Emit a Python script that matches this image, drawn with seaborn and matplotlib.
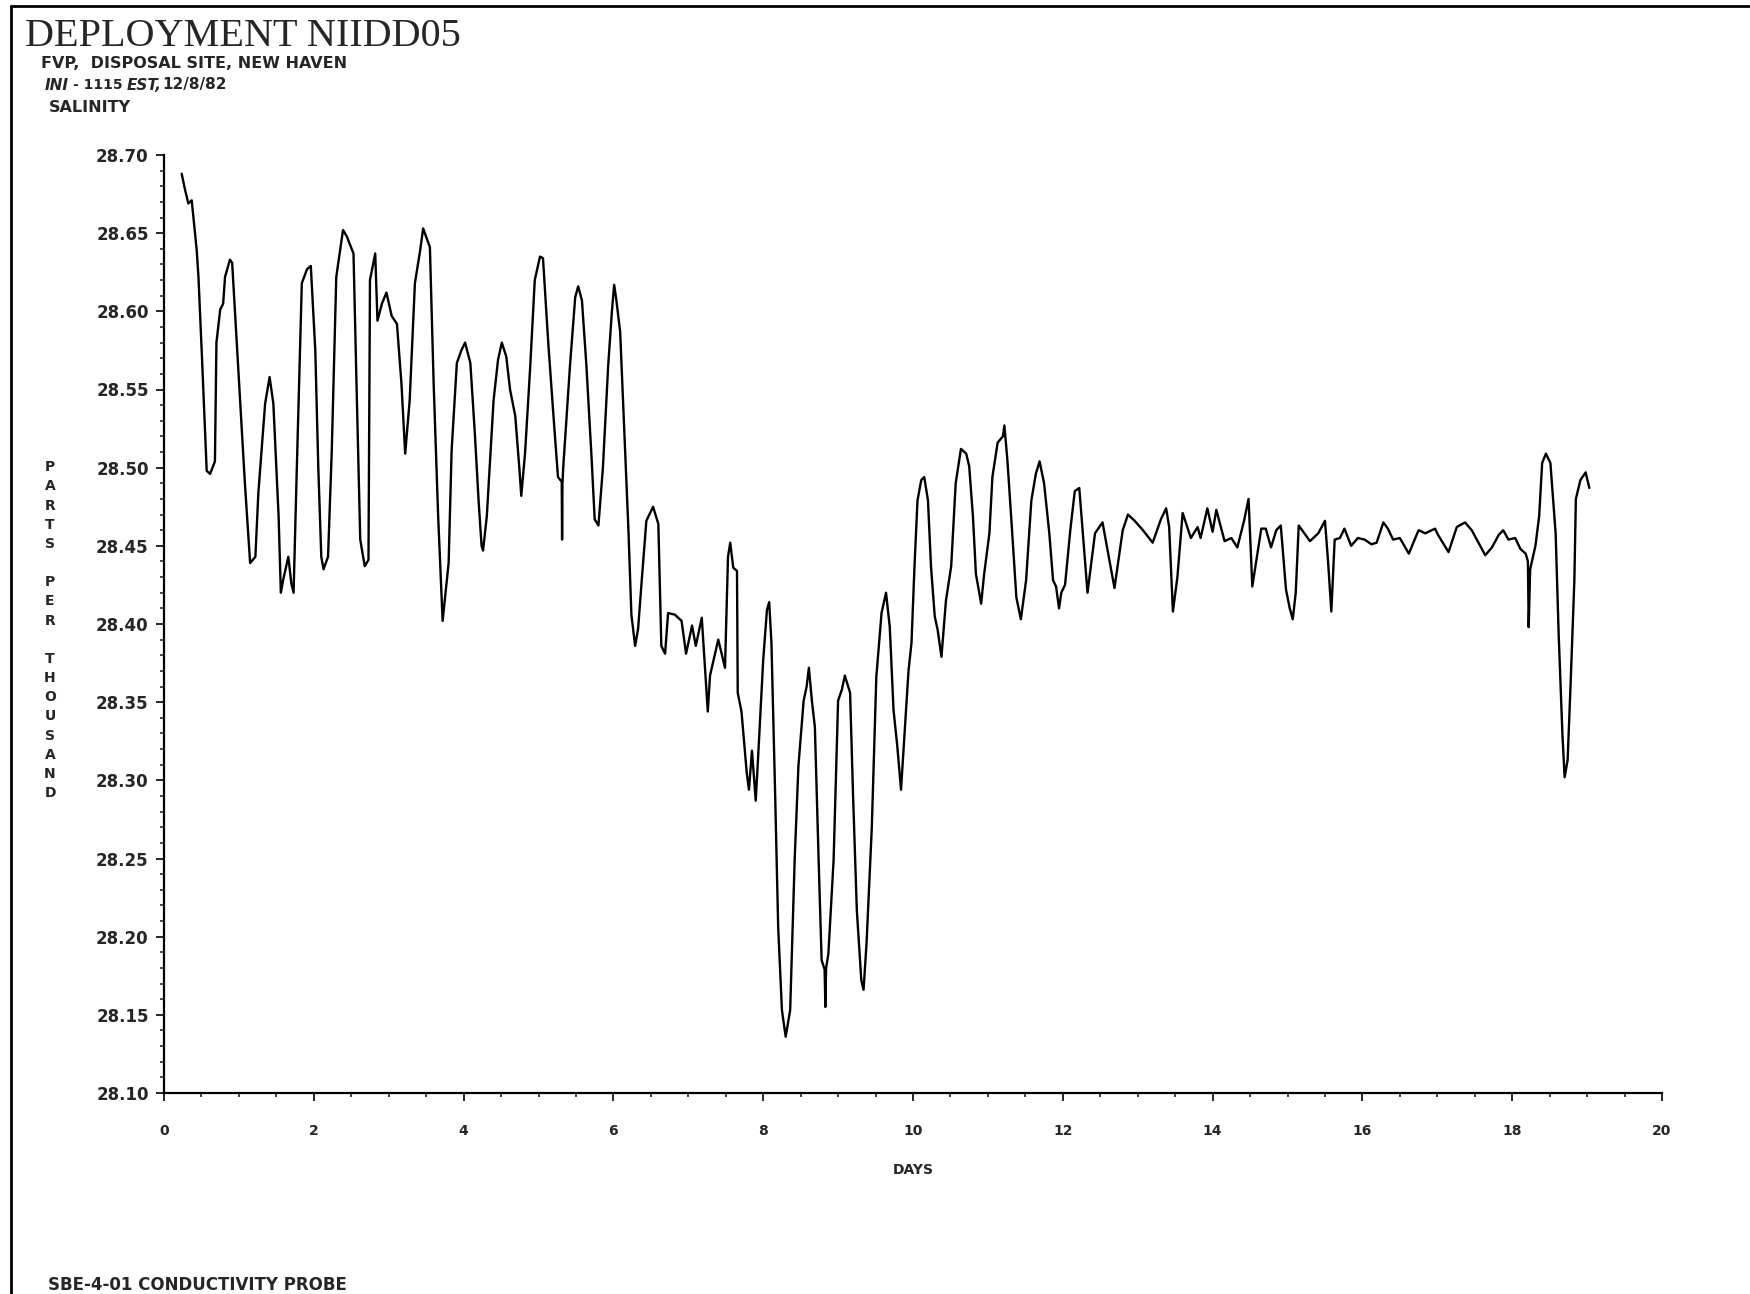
import matplotlib
matplotlib.use("Agg")
import matplotlib.pyplot as plt
from matplotlib.lines import Line2D
from matplotlib.ticker import FixedLocator, MultipleLocator
import pandas as pd
import seaborn as sns

# salinity record, split in pieces
days_a = [0.236, 0.28, 0.325, 0.37, 0.437, 0.46, 0.503, 0.57, 0.615, 0.68, 0.70, 0.75, 0.79,
          0.815, 0.88, 0.91, 0.99, 1.08, 1.15, 1.22, 1.26, 1.35, 1.41, 1.46, 1.53, 1.56, 1.59,
          1.66, 1.70, 1.73, 1.77, 1.84, 1.91, 1.96, 2.02, 2.06, 2.10, 2.13, 2.19, 2.24, 2.30,
          2.39, 2.44, 2.53, 2.57, 2.62, 2.68, 2.73, 2.75, 2.82, 2.85, 2.91, 2.97, 3.04, 3.11,
          3.17, 3.22, 3.28, 3.35, 3.42, 3.46, 3.55, 3.60, 3.66, 3.72, 3.80, 3.84, 3.91, 3.97]
sal_a = [28.688, 28.678, 28.669, 28.671, 28.639, 28.622, 28.575, 28.498, 28.496, 28.504, 28.580,
         28.601, 28.605, 28.622, 28.633, 28.631, 28.565, 28.490, 28.439, 28.443, 28.484, 28.541,
         28.558, 28.541, 28.469, 28.420, 28.428, 28.443, 28.426, 28.420, 28.494, 28.618, 28.627,
         28.629, 28.575, 28.500, 28.443, 28.435, 28.443, 28.511, 28.622, 28.652, 28.648, 28.637,
         28.554, 28.454, 28.437, 28.441, 28.620, 28.637, 28.594, 28.605, 28.612, 28.597, 28.592,
         28.554, 28.509, 28.543, 28.618, 28.639, 28.653, 28.641, 28.554, 28.469, 28.402, 28.439,
         28.511, 28.567, 28.575]

days_b = [4.02, 4.09, 4.15, 4.20, 4.24, 4.26, 4.31, 4.40, 4.46, 4.51, 4.57, 4.62, 4.69, 4.75,
          4.77, 4.82, 4.89, 4.95, 5.02, 5.06, 5.13, 5.20, 5.26, 5.31, 5.315, 5.32, 5.33, 5.42,
          5.49, 5.53, 5.58, 5.64, 5.71, 5.75, 5.80, 5.86, 5.93, 5.98, 6.01, 6.04, 6.09, 6.155,
          6.20, 6.24, 6.29, 6.33, 6.38, 6.44, 6.53, 6.60, 6.64, 6.69, 6.73, 6.82, 6.91, 6.97,
          7.05, 7.10, 7.18, 7.22, 7.26, 7.29, 7.40, 7.49, 7.53, 7.56, 7.60, 7.65, 7.66, 7.71,
          7.78, 7.81, 7.85, 7.90, 7.93]
sal_b = [28.580, 28.567, 28.522, 28.479, 28.450, 28.447, 28.469, 28.543, 28.569, 28.580, 28.571,
         28.550, 28.533, 28.496, 28.482, 28.509, 28.565, 28.620, 28.635, 28.634, 28.580, 28.533,
         28.494, 28.491, 28.454, 28.490, 28.500, 28.565, 28.609, 28.616, 28.607, 28.565, 28.505,
         28.467, 28.463, 28.500, 28.565, 28.600, 28.617, 28.607, 28.587, 28.512, 28.461, 28.406,
         28.386, 28.397, 28.429, 28.466, 28.475, 28.464, 28.386, 28.381, 28.407, 28.406, 28.402,
         28.381, 28.399, 28.386, 28.404, 28.374, 28.344, 28.367, 28.390, 28.372, 28.443, 28.452,
         28.436, 28.434, 28.356, 28.344, 28.305, 28.294, 28.319, 28.287, 28.313]

days_c = [8.00, 8.05, 8.08, 8.11, 8.16, 8.20, 8.25, 8.30, 8.36, 8.42, 8.47, 8.54, 8.58, 8.61,
          8.65, 8.69, 8.74, 8.78, 8.82, 8.83, 8.84, 8.87, 8.94, 9.00, 9.05, 9.09, 9.16, 9.20,
          9.25, 9.31, 9.34, 9.38, 9.45, 9.51, 9.58, 9.64, 9.69, 9.74, 9.79, 9.84, 9.88, 9.94,
          9.98, 10.02, 10.06, 10.11, 10.15, 10.20, 10.24, 10.29, 10.33, 10.38, 10.44, 10.51,
          10.57, 10.64, 10.71, 10.75, 10.80, 10.84, 10.91, 10.95, 11.02, 11.06, 11.13, 11.20,
          11.22, 11.26, 11.31, 11.38, 11.44, 11.51, 11.58, 11.64, 11.69, 11.75, 11.82, 11.87,
          11.91, 11.95, 11.98]
sal_c = [28.377, 28.409, 28.414, 28.388, 28.290, 28.206, 28.153, 28.136, 28.153, 28.249, 28.309,
         28.351, 28.360, 28.372, 28.351, 28.334, 28.249, 28.185, 28.179, 28.155, 28.180, 28.189,
         28.249, 28.351, 28.358, 28.367, 28.356, 28.290, 28.217, 28.172, 28.166, 28.196, 28.270,
         28.366, 28.407, 28.420, 28.398, 28.345, 28.322, 28.294, 28.324, 28.370, 28.388, 28.437,
         28.479, 28.492, 28.494, 28.479, 28.437, 28.405, 28.396, 28.379, 28.415, 28.437, 28.490,
         28.512, 28.509, 28.501, 28.469, 28.432, 28.413, 28.432, 28.458, 28.494, 28.516, 28.520,
         28.527, 28.505, 28.469, 28.417, 28.403, 28.428, 28.479, 28.496, 28.504, 28.490, 28.458,
         28.428, 28.424, 28.410, 28.420]

days_d = [12.03, 12.10, 12.16, 12.22, 12.33, 12.43, 12.53, 12.69, 12.80, 12.87, 12.96, 13.07,
          13.20, 13.31, 13.38, 13.42, 13.47, 13.53, 13.60, 13.71, 13.80, 13.84, 13.93, 14.00,
          14.05, 14.16, 14.25, 14.33, 14.42, 14.48, 14.53, 14.65, 14.71, 14.78, 14.85, 14.91,
          14.98, 15.03, 15.07, 15.11, 15.15, 15.21, 15.30, 15.41, 15.50, 15.54, 15.585, 15.63,
          15.70, 15.76, 15.85, 15.94]
sal_d = [28.425, 28.460, 28.485, 28.487, 28.420, 28.458, 28.465, 28.423, 28.460, 28.470, 28.466,
         28.460, 28.452, 28.467, 28.474, 28.462, 28.408, 28.430, 28.471, 28.455, 28.462, 28.455,
         28.474, 28.459, 28.473, 28.453, 28.455, 28.449, 28.466, 28.480, 28.424, 28.461, 28.461,
         28.449, 28.460, 28.463, 28.422, 28.410, 28.403, 28.420, 28.463, 28.459, 28.453, 28.458,
         28.466, 28.441, 28.408, 28.454, 28.455, 28.461, 28.450, 28.455]

days_e = [16.03, 16.12, 16.19, 16.28, 16.34, 16.41, 16.50, 16.62, 16.75, 16.84, 16.97, 17.01,
          17.15, 17.26, 17.37, 17.46, 17.55, 17.64, 17.73, 17.82, 17.88, 17.95, 18.04, 18.11,
          18.18, 18.21, 18.22, 18.24, 18.31, 18.36, 18.40, 18.45, 18.51, 18.58, 18.62, 18.67,
          18.70, 18.74, 18.78, 18.83, 18.85, 18.91, 18.98, 19.03]
sal_e = [28.454, 28.451, 28.452, 28.465, 28.461, 28.454, 28.455, 28.445, 28.460, 28.458, 28.461,
         28.457, 28.446, 28.462, 28.465, 28.460, 28.452, 28.444, 28.449, 28.457, 28.460, 28.454,
         28.455, 28.448, 28.445, 28.440, 28.398, 28.435, 28.450, 28.469, 28.503, 28.509, 28.503,
         28.458, 28.394, 28.330, 28.302, 28.313, 28.362, 28.428, 28.480, 28.492, 28.497, 28.487]

y_ticks = [28.10, 28.15, 28.20, 28.25, 28.30, 28.35, 28.40, 28.45, 28.50, 28.55, 28.60, 28.65, 28.70]
y_ticklabels = ["28.10", "28.15", "28.20", "28.25", "28.30", "28.35", "28.40",
                "28.45", "28.50", "28.55", "28.60", "28.65", "28.70"]
x_ticks = [0, 2, 4, 6, 8, 10, 12, 14, 16, 18, 20]

df = pd.DataFrame({
    "day": days_a + days_b + days_c + days_d + days_e,
    "salinity": sal_a + sal_b + sal_c + sal_d + sal_e,
})

sns.set_style("ticks")
plt.rcParams["font.family"] = ["DejaVu Sans"]

fig = plt.figure(figsize=(17.5, 12.94), dpi=100)
ax = fig.add_axes([164 / 1750, 1 - 1093 / 1294, (1662 - 164) / 1750, (1093 - 155) / 1294])

sns.lineplot(data=df, x="day", y="salinity", estimator=None, sort=False,
             color="black", linewidth=1.7, ax=ax)

ax.set_xlim(0, 20)
ax.set_ylim(28.10, 28.70)
ax.yaxis.set_major_locator(FixedLocator(y_ticks))
ax.set_yticklabels(y_ticklabels)
ax.yaxis.set_minor_locator(MultipleLocator(0.01))
ax.xaxis.set_major_locator(FixedLocator(x_ticks))
ax.set_xticklabels([str(t) for t in x_ticks])
ax.xaxis.set_minor_locator(MultipleLocator(0.5))

sns.despine(ax=ax)
for s in ["left", "bottom"]:
    ax.spines[s].set_linewidth(1.6)
    ax.spines[s].set_color("black")

ax.tick_params(axis="y", which="major", direction="out", length=6, width=1.4, pad=5,
               labelsize=12)
ax.tick_params(axis="y", which="minor", direction="out", length=3, width=1.2)
ax.tick_params(axis="x", which="major", direction="out", length=6, width=1.4, pad=16,
               labelsize=10)
ax.tick_params(axis="x", which="minor", direction="out", length=3, width=1.2)
for lab in ax.get_xticklabels() + ax.get_yticklabels():
    lab.set_fontweight("bold")

ax.set_xlabel("DAYS", fontsize=10, fontweight="bold", labelpad=18)
ax.set_ylabel("")

# stacked vertical axis caption
fig.text(50 / 1750, 0.513, "\n".join("PARTS PER THOUSAND"), ha="center", va="center",
         fontsize=10, fontweight="bold", linespacing=1.47)

# headings
fig.text(25 / 1750, 1 - 46 / 1294, "DEPLOYMENT NIIDD05", family="Liberation Serif",
         fontsize=29, va="baseline", ha="left")
fig.text(41 / 1750, 1 - 64 / 1294, "FVP,  DISPOSAL SITE, NEW HAVEN", fontsize=11.5,
         fontweight="bold", va="center", ha="left")
fig.text(45 / 1750, 1 - 85 / 1294, "INI", fontsize=11, fontweight="bold", style="italic",
         va="center", ha="left")
fig.text(73 / 1750, 1 - 85 / 1294, "- 1115", fontsize=10, fontweight="bold",
         va="center", ha="left")
fig.text(127 / 1750, 1 - 85 / 1294, "EST,", fontsize=11, fontweight="bold", style="italic",
         va="center", ha="left")
fig.text(162 / 1750, 1 - 85 / 1294, "12/8/82", fontsize=11, fontweight="bold",
         va="center", ha="left")
fig.text(49 / 1750, 1 - 107 / 1294, "SALINITY", fontsize=11.5, fontweight="bold",
         va="center", ha="left")
fig.text(48 / 1750, 1 - 1285 / 1294, "SBE-4-01 CONDUCTIVITY PROBE", fontsize=12,
         fontweight="bold", va="center", ha="left")

# page frame from the scan
fig.add_artist(Line2D([11 / 1750, 11 / 1750], [0, 1 - 6 / 1294], color="black", lw=2))
fig.add_artist(Line2D([11 / 1750, 1], [1 - 6 / 1294, 1 - 6 / 1294], color="black", lw=2))

fig.savefig("out.png", dpi=100)
